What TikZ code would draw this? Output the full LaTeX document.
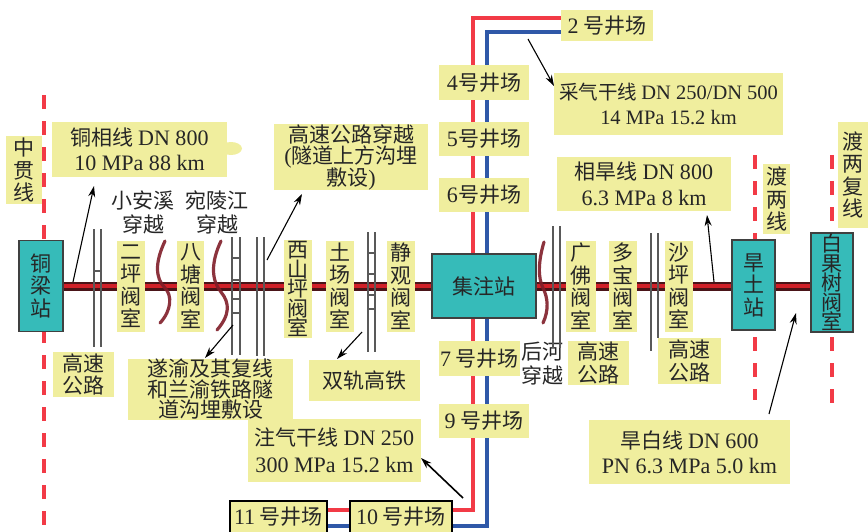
\documentclass[tikz,border=0pt]{standalone}
\usepackage{fontspec}
\setmainfont[Scale=1.05]{Liberation Serif}
\newfontfamily\cjk{Noto Sans CJK SC}
\newcommand{\lat}[1]{{\rmfamily #1}}
\usetikzlibrary{arrows.meta, backgrounds}
\definecolor{tagyellow}{HTML}{F0EE9E}
\definecolor{stationteal}{HTML}{36BBB9}
\definecolor{pipedark}{HTML}{4A1418}
\definecolor{pipered}{HTML}{D02028}
\definecolor{wavered}{HTML}{7F1D28}
\definecolor{gasred}{HTML}{F23A46}
\definecolor{gasblue}{HTML}{2F58A8}
\tikzstyle{tag} = [rectangle, fill=tagyellow, align=center, inner sep=0pt, text=black!85, font=\cjk\fontsize{21}{22.5}\selectfont]
\tikzstyle{note} = [align=center, inner sep=0pt, text=black!85, font=\cjk\fontsize{21}{24}\selectfont]
\tikzstyle{station} = [tag, fill=stationteal, draw=black!75, line width=1.2pt]
\tikzstyle{wellbox} = [tag, draw=black, line width=1.2pt]
\tikzstyle{pipe} = [draw=pipedark, line width=2.2pt, double=pipered, double distance=4.6pt]
\tikzstyle{border} = [gasred, line width=4pt, dash pattern=on 14pt off 12pt]
\tikzstyle{rail} = [black!65, line width=1.4pt]
\tikzstyle{wave} = [wavered, line width=3.2pt, line cap=round, opacity=0.9]
\tikzstyle{arrow} = [line width=1.1pt,-{Stealth[length=11pt,width=7pt]}]

\begin{document}
\begin{tikzpicture}[x=1pt, y=-1pt, node distance=56pt]
	\useasboundingbox (0,0) rectangle (868,531);
	\fill [tagyellow] (231,148.5) ellipse (11pt and 6.5pt);
	\node (zhongguan) [tag, minimum width=36pt, minimum height=68pt] at (24,170) {中\\贯\\线};
	\node (tongxiang) [tag, minimum width=175pt, minimum height=55pt] at (139.5,149.5) {铜相线 \lat{DN 800}\\[2.5pt]\lat{10 MPa 88 km}};
	\node (suidao) [tag, minimum width=154pt, minimum height=56pt] at (351,157) {高速公路穿越\\[-1pt]\lat{(}隧道上方沟埋\\[-1pt]敷设\lat{)}};
	\node (tongliang) [station, minimum width=44pt, minimum height=91pt] at (41,286) {铜\\梁\\站};
	\node (erping) [tag, minimum width=28pt, minimum height=91pt] at (131,286) {二\\坪\\阀\\室};
	\node (batang) [tag, minimum width=27pt, minimum height=91pt] at (190.5,286) {八\\塘\\阀\\室};
	\node (xishan) [tag, minimum width=28pt, minimum height=98pt] at (298,289) {西\\[-3pt]山\\[-3pt]坪\\[-3pt]阀\\[-3pt]室};
	\node (tuchang) [tag, minimum width=28pt, minimum height=91pt] at (340,286) {土\\场\\阀\\室};
	\node (jingguan) [tag, minimum width=28pt, minimum height=91pt] at (401,286) {静\\观\\阀\\室};
	\node (jizhu) [station, minimum width=104pt, minimum height=64pt] at (484,286) {集注站};
	\node (guangfo) [tag, minimum width=30pt, minimum height=91pt] at (581,286) {广\\佛\\阀\\室};
	\node (duobao) [tag, minimum width=28pt, minimum height=91pt] at (623,286) {多\\宝\\阀\\室};
	\node (shaping) [tag, minimum width=28pt, minimum height=91pt] at (679,286) {沙\\坪\\阀\\室};
	\node (hantu) [station, minimum width=43pt, minimum height=90pt] at (753.5,285) {旱\\土\\站};
	\node (baiguo) [station, minimum width=42pt, minimum height=99pt] at (832,282.5) {白\\[-3pt]果\\[-3pt]树\\[-3pt]阀\\[-3pt]室};
	\node (gaosua) [tag, minimum width=61pt, minimum height=45pt] at (83.5,374.5) {高速\\公路};
	\node (gaosub) [tag, minimum width=61pt, minimum height=44pt] at (598.5,363) {高速\\公路};
	\node (gaosuc) [tag, minimum width=63pt, minimum height=46pt] at (689.5,361) {高速\\公路};
	\node (suiyu) [tag, minimum width=165pt, minimum height=61pt] at (210.5,389.5) {遂渝及其复线\\[-2pt]和兰渝铁路隧\\[-2pt]道沟埋敷设};
	\node (shuanggui) [tag, minimum width=111pt, minimum height=41pt] at (364.5,380.5) {双轨高铁};
	\node (zhuqi) [tag, minimum width=173pt, minimum height=63pt] at (334.5,450.5) {注气干线 \lat{DN 250}\\[4pt]\lat{300 MPa 15.2 km}};
	\node (caiqi) [tag, minimum width=229pt, minimum height=62pt, font=\cjk\fontsize{19.5}{22.5}\selectfont] at (668.5,104) {采气干线 \lat{DN 250/DN 500}\\[2.5pt]\lat{14 MPa 15.2 km}};
	\node (xianghan) [tag, minimum width=174pt, minimum height=54pt] at (644,184) {相旱线 \lat{DN 800}\\[3pt]\lat{6.3 MPa 8 km}};
	\node (hanbai) [tag, minimum width=201pt, minimum height=64pt] at (689.5,452) {旱白线 \lat{DN 600}\\[2.5pt]\lat{PN 6.3 MPa 5.0 km}};
	\node (duliang) [tag, minimum width=27pt, minimum height=70pt] at (776.5,199) {渡\\两\\线};
	\node (dufu) [tag, minimum width=30pt, minimum height=106pt] at (853,175) {渡\\两\\复\\线};
	\node (jing2) [tag, minimum width=92pt, minimum height=31pt] at (607,25.5) {\lat{2} 号井场};
	\node (jing4) [tag, minimum width=90pt, minimum height=35pt] at (484,82.5) {\lat{4}号井场};
	\node (jing5) [tag, minimum width=90pt, minimum height=34pt, below of=jing4] {\lat{5}号井场};
	\node (jing6) [tag, minimum width=90pt, minimum height=34pt, below of=jing5] {\lat{6}号井场};
	\node (jing7) [tag, minimum width=81pt, minimum height=35pt] at (479.5,358.5) {\lat{7} 号井场};
	\node (jing9) [tag, minimum width=90pt, minimum height=34pt] at (484,421) {\lat{9} 号井场};
	\node (jing10) [wellbox, minimum width=102pt, minimum height=32pt] at (401,517) {\lat{10} 号井场};
	\node (jing11) [wellbox, minimum width=97pt, minimum height=32pt] at (278.5,517) {\lat{11} 号井场};
	\node (xiaoan) [note] at (143,212) {小安溪\\穿越};
	\node (wanling) [note] at (217,212) {宛陵江\\穿越};
	\node (houhe) [note] at (542,364) {后河\\穿越};
	\coordinate (redtop) at (473,18);
	\coordinate (redend) at (473,510);
	\coordinate (bluetop) at (487,32);
	\coordinate (blueend) at (487,526);
	\coordinate (tailtx) at (73,282);
	\coordinate (headtx) at (94,186);
	\coordinate (tailsd) at (267,260);
	\coordinate (headsd) at (302,194);
	\coordinate (tailsy) at (233,325);
	\coordinate (headsy) at (205,358);
	\coordinate (tailsg) at (362,332);
	\coordinate (headsg) at (337,359);
	\coordinate (tailcq) at (528,39);
	\coordinate (headcq) at (554,86);
	\coordinate (tailzq) at (463,498);
	\coordinate (headzq) at (421,458);
	\coordinate (tailxh) at (714,282);
	\coordinate (headxh) at (707,215);
	\coordinate (tailhb) at (769,414);
	\coordinate (headhb) at (796,313);

	\begin{scope}[on background layer]
		\draw [border] (44,95) -- (44,531);
		\draw [border] (755,155) -- (755,400);
		\draw [border] (832,155) -- (832,405);
		\draw [gasred, line width=4pt] (jing2.west |- redtop) -- (redtop) -- (redend) -- (redend -| jing11.east);
		\draw [gasblue, line width=4pt] (jing2.west |- bluetop) -- (bluetop) -- (blueend) -- (blueend -| jing11.east);
	\end{scope}

	\foreach \a/\b in {tongliang/erping, erping/batang, batang/xishan, xishan/tuchang, tuchang/jingguan, jingguan/jizhu, jizhu/guangfo, guangfo/duobao, duobao/shaping, shaping/hantu, hantu/baiguo}
		\draw [pipe] (\a.east |- tongliang) -- (\b.west |- tongliang);

	\foreach \x/\t/\b in {94/229/347, 101/229/347, 232/237/355, 240/237/355, 257/237/356, 264/237/356, 368/232/352, 375/232/352, 553/226/348, 560/226/348, 651/233/351, 658/233/338}
		\draw [rail] (\x,\t) -- (\x,\b);
	\foreach \y in {258, 280, 299, 313}
		\draw [rail] (232,\y) -- (240,\y);
	\foreach \y in {253, 274, 295, 309}
		\draw [rail] (368,\y) -- (375,\y);
	\draw [rail] (94,271) -- (101,271);

	\draw [wave] (165,241) .. controls (155,262) and (155,278) .. (165,288) .. controls (172,295) and (172,310) .. (160,323);
	\draw [wave] (221,241) .. controls (211,262) and (211,280) .. (221,292) .. controls (230,303) and (230,315) .. (217,330);
	\draw [wave] (544,242) .. controls (538,262) and (538,278) .. (543,288) .. controls (548,298) and (549,310) .. (543,323);

	\draw [arrow] (tailtx) -- (headtx);
	\draw [arrow] (tailsd) -- (headsd);
	\draw [arrow] (tailsy) -- (headsy);
	\draw [arrow] (tailsg) -- (headsg);
	\draw [arrow] (tailcq) -- (headcq);
	\draw [arrow, line width=1.6pt] (tailzq) -- (headzq);
	\draw [arrow] (tailxh) -- (headxh);
	\draw [arrow] (tailhb) -- (headhb);
\end{tikzpicture}
\end{document}
